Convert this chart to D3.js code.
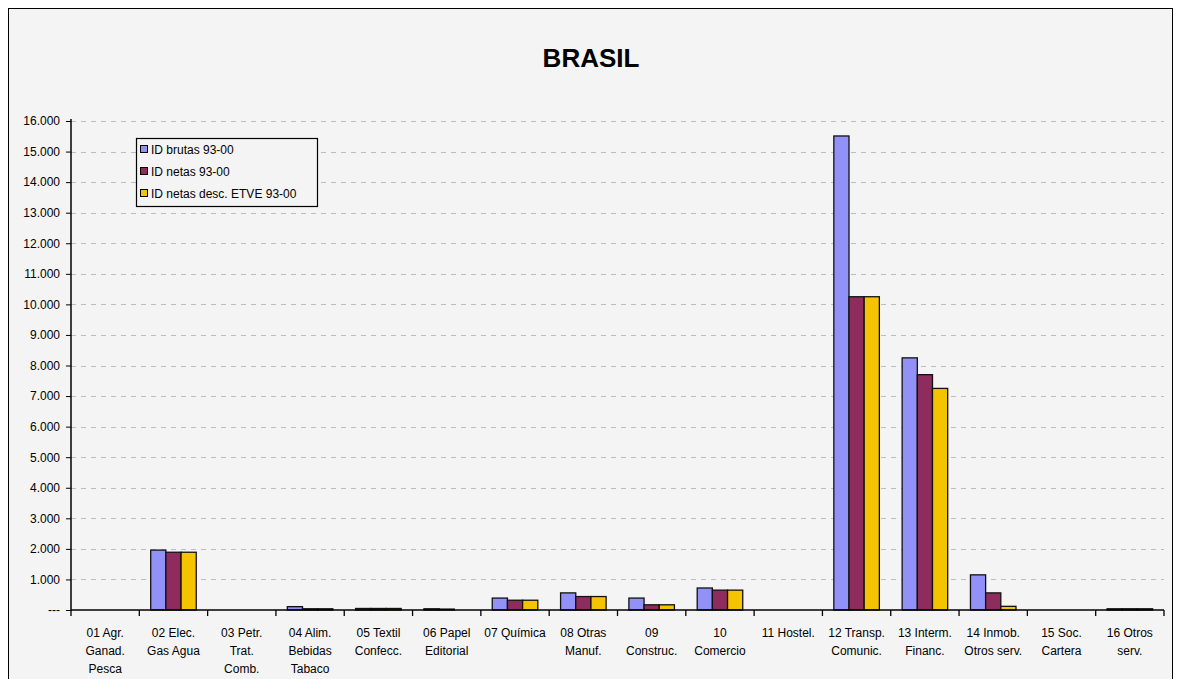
<!DOCTYPE html>
<html><head><meta charset="utf-8">
<script src="https://cdn.jsdelivr.net/npm/d3@7"></script>
<style>
html,body{margin:0;padding:0;background:#fff;}
svg{display:block;font-family:"Liberation Sans",Arial,sans-serif;}
</style></head>
<body><svg id="c" width="1178" height="679"></svg>
<script>
const categories = [
  ["01 Agr.","Ganad.","Pesca"],["02 Elec.","Gas Agua"],["03 Petr.","Trat.","Comb."],
  ["04 Alim.","Bebidas","Tabaco"],["05 Textil","Confecc."],["06 Papel","Editorial"],
  ["07 Química"],["08 Otras","Manuf."],["09","Construc."],["10","Comercio"],
  ["11 Hostel."],["12 Transp.","Comunic."],["13 Interm.","Financ."],
  ["14 Inmob.","Otros serv."],["15 Soc.","Cartera"],["16 Otros","serv."]
];
const seriesNames = ["ID brutas 93-00","ID netas 93-00","ID netas desc. ETVE 93-00"];
const brutas = [0,1960,0,110,50,40,390,560,390,720,0,15510,8250,1150,0,40];
const netas  = [0,1890,0,40,50,30,320,440,170,650,0,10250,7700,560,0,40];
const etve   = [0,1890,0,40,50,0,320,440,170,650,0,10250,7250,120,0,40];
const yTicks = [0,1000,2000,3000,4000,5000,6000,7000,8000,9000,10000,11000,12000,13000,14000,15000,16000];
const colors = ["#9191f7","#8f2c5e","#f5c400"];

const svg = d3.select("#c");
svg.append("rect").attr("x",8.5).attr("y",8.5).attr("width",1164).attr("height",690)
  .attr("fill","#f4f4f4").attr("stroke","#000").attr("stroke-width",1);

const L=71, R=1164, T=121, B=610;
const x = d3.scaleBand().domain(d3.range(categories.length)).range([L,R]).paddingInner(0).paddingOuter(0);
const y = d3.scaleLinear().domain([0,16000]).range([B,T]);
const bw = x.bandwidth()/4.5;
const x1 = d3.scaleBand().domain([0,1,2]).range([0,bw*3]);

// grid
svg.append("g").selectAll("line").data(yTicks.slice(1)).join("line")
  .attr("x1",L).attr("x2",R).attr("y1",d=>Math.round(y(d))+0.5).attr("y2",d=>Math.round(y(d))+0.5)
  .attr("stroke","#bdbdbd").attr("stroke-width",1).attr("stroke-dasharray","5,5");

// title
svg.append("text").attr("x",591).attr("y",67).attr("text-anchor","middle")
  .attr("font-size",26).attr("font-weight","bold").text("BRASIL");

// bars
const data = [brutas,netas,etve];
const g = svg.append("g");
categories.forEach((c,i)=>{
  data.forEach((s,k)=>{
    const v = s[i];
    if (v<=0) return;
    const x0 = x(i) + (x.bandwidth()-bw*3)/2 + x1(k);
    g.append("rect").attr("x",x0).attr("y",y(v)).attr("width",x1.bandwidth())
      .attr("height",B-y(v)).attr("fill",colors[k]).attr("stroke","#111").attr("stroke-width",1.3);
  });
});

// y axis
const yAxis = d3.axisLeft(y).tickValues(yTicks).tickSize(5).tickPadding(6)
  .tickFormat(d=> d===0 ? "---" : (d/1000).toFixed(3));
const ya = svg.append("g").attr("transform",`translate(${L},0)`).call(yAxis);
ya.selectAll("text").attr("font-size",12)
  .attr("font-family","'Liberation Sans',Arial,sans-serif").attr("fill","#000");
ya.selectAll("line").attr("stroke","#000");
ya.select(".domain").attr("stroke","#000").attr("stroke-width",1.5).attr("d",`M0,${T-2}V${B}`);

// x axis
const xa = svg.append("g").attr("transform",`translate(0,${B})`);
xa.append("line").attr("x1",L).attr("x2",R).attr("y1",0).attr("y2",0).attr("stroke","#000").attr("stroke-width",1.5);
xa.selectAll("line.t").data(d3.range(categories.length+1)).join("line").attr("class","t")
  .attr("x1",i=>L+i*x.bandwidth()).attr("x2",i=>L+i*x.bandwidth()).attr("y1",0).attr("y2",6)
  .attr("stroke","#000").attr("stroke-width",1.3);
categories.forEach((c,i)=>{
  const t = xa.append("text").attr("text-anchor","middle").attr("font-size",12)
    .attr("x",x(i)+x.bandwidth()/2).attr("y",27);
  c.forEach((ln,j)=> t.append("tspan").attr("x",x(i)+x.bandwidth()/2).attr("dy", j===0?0:18).text(ln));
});

// legend
const lg = svg.append("g");
lg.append("rect").attr("x",136.5).attr("y",138.5).attr("width",181).attr("height",68)
  .attr("fill","#f4f4f4").attr("stroke","#000").attr("stroke-width",1.2);
seriesNames.forEach((n,k)=>{
  const yy = 150 + k*22;
  lg.append("rect").attr("x",140.5).attr("y",yy-4.5).attr("width",7).attr("height",7)
    .attr("fill",colors[k]).attr("stroke","#000");
  lg.append("text").attr("x",151).attr("y",yy+4).attr("font-size",12).text(n);
});
</script></body></html>
